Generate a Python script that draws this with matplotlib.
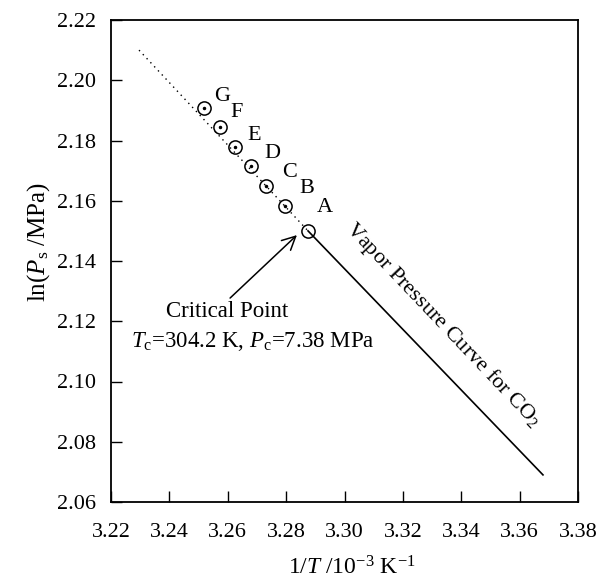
import numpy as np
import matplotlib.pyplot as plt

plt.rcParams['font.family'] = ['Liberation Serif', 'DejaVu Serif']
plt.rcParams['mathtext.fontset'] = 'custom'
plt.rcParams['mathtext.rm'] = 'Liberation Serif'
plt.rcParams['mathtext.it'] = 'Liberation Serif:italic'

# measured points A..G (1/T in 1e-3 K^-1, ln Ps)
labels = ["A", "B", "C", "D", "E", "F", "G"]
inv_t = [3.2875, 3.2796, 3.2731, 3.2680, 3.2625, 3.2573, 3.2519]
ln_p = [2.1500, 2.1583, 2.1649, 2.1715, 2.1778, 2.1845, 2.1908]
# label offsets in pixels from each point
label_dx = [17, 22, 24, 21, 19, 17, 18]
label_dy = [23, 17, 13, 13, 12, 14, 11]

# extrapolated (dotted) and vapour pressure (solid) lines
dot_x = [3.2296, 3.2875]
dot_y = [2.2100, 2.1500]
vp_x = [3.2875, 3.3680]
vp_y = [2.1500, 2.0690]

xticks = [3.22, 3.24, 3.26, 3.28, 3.30, 3.32, 3.34, 3.36, 3.38]
yticks = [2.06, 2.08, 2.10, 2.12, 2.14, 2.16, 2.18, 2.20, 2.22]

fig = plt.figure(figsize=(6.01, 5.8), dpi=100)
ax = fig.add_axes([111/601, 78/580, 467/601, 482/580])

ax.plot(dot_x, dot_y, color="black", linestyle=(0, (1, 3)), linewidth=1.0)
ax.plot(vp_x, vp_y, color="black", linewidth=1.2)
ax.plot(inv_t, ln_p, linestyle="none", marker="o", markersize=9.5,
        markerfacecolor="none", markeredgecolor="black", markeredgewidth=1.1)
ax.plot(inv_t[1:], ln_p[1:], linestyle="none", marker="o", markersize=1.5, color="black")

for lab, x, y, dx, dy in zip(labels, inv_t, ln_p, label_dx, label_dy):
    ax.annotate(lab, (x, y), xytext=(dx, dy), textcoords="offset pixels",
                fontsize=16, ha="center", va="center")

ax.annotate("", xy=(3.2837, 2.1486), xytext=(3.2608, 2.1277),
            arrowprops=dict(arrowstyle="->", color="black", lw=1.1,
                            mutation_scale=24, shrinkA=0, shrinkB=0))
ax.text(3.2597, 2.1231, "Critical Point", fontsize=16.5, ha="center", va="center")
ax.text(3.2687, 2.1134, r"$\mathit{T}_{\mathrm{c}}$=304.2 K, $\mathit{P}_{\mathrm{c}}$=7.38 MPa",
        fontsize=16.5, ha="center", va="center")
ax.text(3.3337, 2.1188, r"Vapor Pressure Curve for CO$_2$", fontsize=16,
        rotation=-46.5, ha="center", va="center", rotation_mode="anchor")

ax.set_xlim(3.22, 3.38)
ax.set_ylim(2.06, 2.22)
ax.set_xticks(xticks)
ax.set_yticks(yticks)
ax.set_xticklabels([f"{t:.2f}" for t in xticks])
ax.set_yticklabels([f"{t:.2f}" for t in yticks])
ax.tick_params(direction="in", length=8, width=1, labelsize=16)
ax.tick_params(axis="x", pad=15)
ax.tick_params(axis="y", pad=11)
for s in ax.spines.values():
    s.set_linewidth(1.3)

ax.set_xlabel(r"1/$\mathit{T}$ /10$^{-3}$ K$^{-1}$", fontsize=17)
ax.set_ylabel(r"ln($\mathit{P}_{\mathrm{s}}$ /MPa)", fontsize=18)
ax.xaxis.set_label_coords(0.515, -0.137)
ax.yaxis.set_label_coords(-0.155, 0.539)
ax.xaxis.label.set_va("center")
ax.yaxis.label.set_va("center")

fig.savefig("out.png", dpi=100)
